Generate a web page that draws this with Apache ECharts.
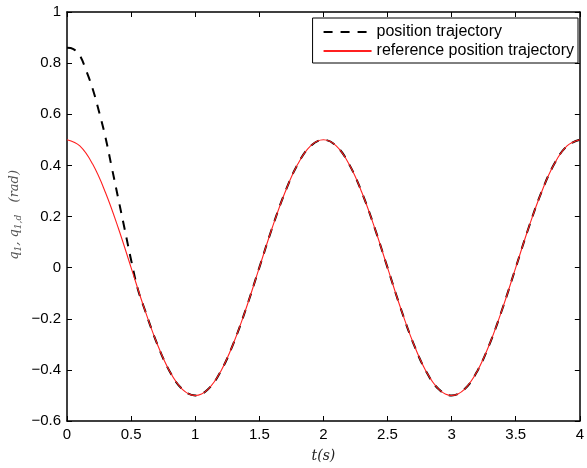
<!DOCTYPE html>
<html><head><meta charset="utf-8">
<script src="https://cdn.jsdelivr.net/npm/echarts@6/dist/echarts.min.js"></script>
<style>html,body{margin:0;padding:0;background:#fff}#c{width:587px;height:468px}</style>
</head><body><div id="c"></div>
<script>
// time samples (s)
var tRef = [0,0.1,0.2,0.3,0.4,0.5,0.6,0.7,0.8,0.9,1.0,1.1,1.2,1.3,1.4,1.5,1.6,1.7,1.8,1.9,2.0,
            2.1,2.2,2.3,2.4,2.5,2.6,2.7,2.8,2.9,3.0,3.1,3.2,3.3,3.4,3.5,3.6,3.7,3.8,3.9,4.0];
// reference position trajectory (rad)
var qRef = [0.5,0.476,0.405,0.294,0.155,0,-0.155,-0.294,-0.405,-0.476,-0.5,-0.476,-0.405,-0.294,-0.155,0,0.155,0.294,0.405,0.476,0.5,
            0.476,0.405,0.294,0.155,0,-0.155,-0.294,-0.405,-0.476,-0.5,-0.476,-0.405,-0.294,-0.155,0,0.155,0.294,0.405,0.476,0.5];
// position trajectory (rad)
var tPos = [0,0.05,0.1,0.15,0.2,0.25,0.3,0.35,0.4,0.45,0.5,0.55,0.6,0.7,0.8,0.9,1.0,1.1,1.2,1.3,1.4,1.5,1.6,1.7,1.8,1.9,2.0,
            2.1,2.2,2.3,2.4,2.5,2.6,2.7,2.8,2.9,3.0,3.1,3.2,3.3,3.4,3.5,3.6,3.7,3.8,3.9,4.0];
var qPos = [0.86,0.855,0.83,0.77,0.70,0.61,0.51,0.39,0.27,0.15,0.03,-0.08,-0.155,-0.294,-0.405,-0.476,-0.5,-0.476,-0.405,-0.294,-0.155,0,0.155,0.294,0.405,0.476,0.5,
            0.476,0.405,0.294,0.155,0,-0.155,-0.294,-0.405,-0.476,-0.5,-0.476,-0.405,-0.294,-0.155,0,0.155,0.294,0.405,0.476,0.5];
var seriesNames = ['position trajectory','reference position trajectory'];
var xTicks = {min:0,max:4,interval:0.5};
var yTicks = {min:-0.6,max:1,interval:0.2};

function zip(a,b){return a.map(function(v,i){return [v,b[i]];});}
function fmt(v){var s=String(Math.round(v*10)/10);return s.replace('-','\u2212');}

var chart = echarts.init(document.getElementById('c'),null,{renderer:'canvas'});
var font = 'Liberation Sans, Arial, Helvetica, sans-serif';
var axLine = {show:true,onZero:false,lineStyle:{color:'#000',width:1.5}};
var tick = {show:true,inside:true,length:5,lineStyle:{color:'#000',width:1}};
chart.setOption({
  animation:false,
  backgroundColor:'#fff',
  grid:{left:67,right:3,top:12,bottom:46,containLabel:false},
  xAxis:[
    {type:'value',min:xTicks.min,max:xTicks.max,interval:xTicks.interval,position:'bottom',
     axisLine:axLine,axisTick:tick,splitLine:{show:false},
     axisLabel:{color:'#000',fontSize:15,fontFamily:font,margin:6,formatter:fmt},
     name:'t(s)',nameLocation:'middle',nameGap:28,
     nameTextStyle:{color:'#222',fontSize:14,fontFamily:'DejaVu Serif, serif',fontStyle:'italic'}},
    {type:'value',min:xTicks.min,max:xTicks.max,interval:xTicks.interval,position:'top',
     axisLine:axLine,axisTick:tick,axisLabel:{show:false},splitLine:{show:false}}
  ],
  yAxis:[
    {type:'value',min:yTicks.min,max:yTicks.max,interval:yTicks.interval,position:'left',
     axisLine:axLine,axisTick:tick,splitLine:{show:false},
     axisLabel:{color:'#000',fontSize:15,fontFamily:font,margin:6,formatter:fmt}},
    {type:'value',min:yTicks.min,max:yTicks.max,interval:yTicks.interval,position:'right',
     axisLine:axLine,axisTick:tick,axisLabel:{show:false},splitLine:{show:false}}
  ],
  legend:{
    right:9,top:18,orient:'vertical',itemGap:3,itemWidth:48,itemHeight:18,
    backgroundColor:'#fff',borderColor:'#000',borderWidth:1,borderRadius:0,
    padding:[6,4,4,10],
    itemStyle:{opacity:0},
    textStyle:{color:'#000',fontSize:16,fontFamily:font},
    data:[{name:seriesNames[0]},{name:seriesNames[1]}]
  },
  graphic:[{
    type:'text',left:8,top:170,rotation:Math.PI/2,
    style:{
      text:'{i|q}{s|1}{i|, q}{s|1,d}{i|   (rad)}',
      rich:{
        i:{fontFamily:'DejaVu Serif, serif',fontStyle:'italic',fontSize:13,fill:'#555'},
        s:{fontFamily:'DejaVu Serif, serif',fontStyle:'italic',fontSize:9,fill:'#555',padding:[8,0,0,0]}
      }
    }
  }],
  series:[
    {name:seriesNames[0],type:'line',data:zip(tPos,qPos),symbol:'none',smooth:0.4,
     lineStyle:{color:'#000',width:2,type:[9,8]},itemStyle:{color:'#000'},z:2},
    {name:seriesNames[1],type:'line',data:zip(tRef,qRef),symbol:'none',smooth:0.4,
     lineStyle:{color:'#ff2020',width:1.1},itemStyle:{color:'#ff2020'},z:3}
  ]
});
</script></body></html>
